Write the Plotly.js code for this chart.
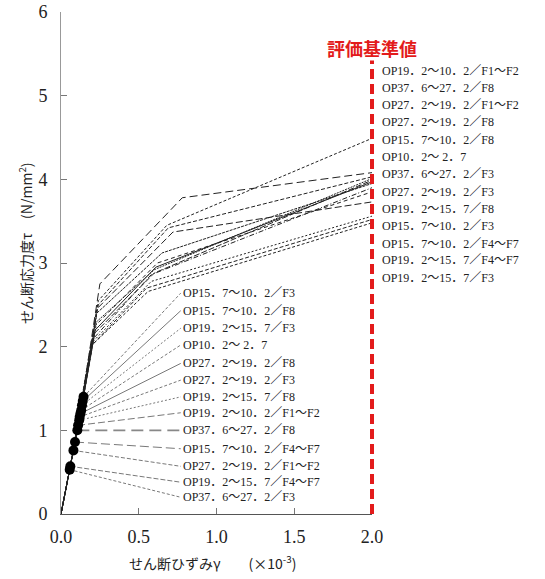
<!DOCTYPE html>
<html>
<head>
<meta charset="utf-8">
<script src="https://cdn.plot.ly/plotly-3.0.1.min.js"></script>
<style>html,body{margin:0;padding:0;background:#fff;}#chart{width:545px;height:579px;}</style>
</head>
<body>
<div id="chart"></div>
<script>
// Curve names (in order of the list beside the evaluation line)
const curveNames = [
  "OP19．2～10．2／F1～F2",
  "OP37．6～27．2／F8",
  "OP27．2～19．2／F1～F2",
  "OP27．2～19．2／F8",
  "OP15．7～10．2／F8",
  "OP10．2～ 2．7",
  "OP37．6～27．2／F3",
  "OP27．2～19．2／F3",
  "OP19．2～15．7／F8",
  "OP15．7～10．2／F3",
  "OP15．7～10．2／F4～F7",
  "OP19．2～15．7／F4～F7",
  "OP19．2～15．7／F3"
];
// Skeleton curve points: crack (marker), second break, third break, end (γ = 2.0)
const crackStrain  = [0.110, 0.105, 0.080, 0.125, 0.140, 0.130, 0.056, 0.120, 0.117, 0.145, 0.090, 0.060, 0.135];
const crackStress  = [1.06, 1.00, 0.76, 1.20, 1.35, 1.24, 0.53, 1.16, 1.12, 1.40, 0.86, 0.57, 1.30];
const yieldStrain  = [0.24, 0.25, 0.24, 0.23, 0.21, 0.22, 0.23, 0.21, 0.22, 0.23, 0.20, 0.19, 0.20];
const yieldStress  = [2.55, 2.75, 2.50, 2.30, 2.15, 2.20, 2.40, 2.10, 2.25, 2.45, 2.05, 2.00, 2.02];
const thirdStrain  = [0.68, 0.78, 0.69, 0.60, 0.60, 0.61, 0.65, 0.58, 0.62, 0.72, 0.58, 0.55, 0.56];
const thirdStress  = [3.45, 3.78, 3.42, 2.92, 2.88, 2.95, 3.12, 2.86, 3.00, 3.37, 2.78, 2.70, 2.66];
const endStrain    = [2.0, 2.0, 2.0, 2.0, 2.0, 2.0, 2.0, 2.0, 2.0, 2.0, 2.0, 2.0, 2.0];
const endStress    = [4.49, 4.08, 4.03, 4.01, 3.99, 3.97, 3.95, 3.90, 3.85, 3.73, 3.56, 3.52, 3.48];

// Right-hand list positions (τ)
const rightLabelTau = [5.30, 5.09, 4.89, 4.68, 4.47, 4.27, 4.06, 3.85, 3.65, 3.44, 3.23, 3.03, 2.82];

// Lower-left marker labels
const markerLabels = [
  "OP15．7～10．2／F3",
  "OP15．7～10．2／F8",
  "OP19．2～15．7／F3",
  "OP10．2～ 2．7",
  "OP27．2～19．2／F8",
  "OP27．2～19．2／F3",
  "OP19．2～15．7／F8",
  "OP19．2～10．2／F1～F2",
  "OP37．6～27．2／F8",
  "OP15．7～10．2／F4～F7",
  "OP27．2～19．2／F1～F2",
  "OP19．2～15．7／F4～F7",
  "OP37．6～27．2／F3"
];
const markerLabelTau = [2.64, 2.43, 2.22, 2.02, 1.80, 1.60, 1.40, 1.21, 1.00, 0.78, 0.57, 0.38, 0.20];
const markerLabelStrain = 0.77;

// Evaluation criterion line
const evalStrain = 2.0;
const evalTop = 5.42;
const evalTitle = "評価基準値";

const xTicks = [0.0, 0.5, 1.0, 1.5, 2.0];
const yTicks = [0, 1, 2, 3, 4, 5, 6];

// ---- styles ----
const curveDash = ["3px,2px","8px,4px","4px,2px","2px,1px","6px,2px","solid","3px,1px",
                   "5px,2px,1px,2px","4px,3px","7px,3px","2px,2px","4px,2px","3px,2px"];
const leaderDash = ["3px,2px","solid","2px,2px","3px,2px","solid","3px,2px","2px,2px",
                    "7px,3px","12px,6px","9px,4px","4px,2px","5px,2px","3px,2px"];
const serif = "'Liberation Serif', 'Times New Roman', 'Noto Sans CJK JP', serif";
const cjk = "'Noto Sans CJK JP', sans-serif";

const traces = [];
for (let i = 0; i < curveNames.length; i++) {
  traces.push({
    type: 'scatter', mode: 'lines', name: curveNames[i], showlegend: false, hoverinfo: 'skip',
    x: [0, crackStrain[i], yieldStrain[i], thirdStrain[i], endStrain[i]],
    y: [0, crackStress[i], yieldStress[i], thirdStress[i], endStress[i]],
    line: {color: '#222', width: 1, dash: curveDash[i]}
  });
}
// leader lines
for (let j = 0; j < markerLabels.length; j++) {
  const k = curveNames.indexOf(markerLabels[j]);
  traces.push({
    type: 'scatter', mode: 'lines', showlegend: false, hoverinfo: 'skip',
    x: [crackStrain[k], markerLabelStrain],
    y: [crackStress[k], markerLabelTau[j]],
    line: {color: j === 8 ? '#888' : '#555', width: j === 8 ? 1.6 : 0.8, dash: leaderDash[j]}
  });
}
// crack markers
traces.push({
  type: 'scatter', mode: 'markers', showlegend: false, hoverinfo: 'skip',
  x: crackStrain, y: crackStress,
  marker: {color: '#000', size: 10}
});

const annotations = [];
for (let i = 0; i < curveNames.length; i++) {
  annotations.push({
    xref: 'paper', yref: 'y', x: 1.026, y: rightLabelTau[i], xanchor: 'left', yanchor: 'middle',
    text: curveNames[i], showarrow: false, font: {family: serif, size: 12, color: '#222'}
  });
}
for (let j = 0; j < markerLabels.length; j++) {
  annotations.push({
    xref: 'x', yref: 'y', x: markerLabelStrain, y: markerLabelTau[j], xanchor: 'left', yanchor: 'middle',
    text: markerLabels[j], showarrow: false, font: {family: serif, size: 12, color: '#222'}
  });
}
annotations.push({
  xref: 'paper', yref: 'y', x: evalStrain / xTicks[xTicks.length - 1], y: 5.57, xanchor: 'center', yanchor: 'middle',
  text: '<b>' + evalTitle + '</b>', showarrow: false, font: {family: cjk, size: 18, color: '#e31b1b'}
});
annotations.push({
  xref: 'paper', yref: 'paper', x: -0.112, y: 0.54, xanchor: 'center', yanchor: 'middle', textangle: -90,
  text: 'せん断応力度τ　(N/mm<sup>2</sup>)', showarrow: false, font: {family: cjk, size: 14, color: '#222'}
});
annotations.push({
  xref: 'paper', yref: 'paper', x: 0.486, y: -0.096, xanchor: 'center', yanchor: 'middle',
  text: 'せん断ひずみγ　　(×10<sup>-3</sup>)', showarrow: false, font: {family: cjk, size: 14, color: '#222'}
});

const layout = {
  width: 545, height: 579,
  margin: {l: 61, r: 173, t: 12, b: 65},
  paper_bgcolor: '#fff', plot_bgcolor: '#fff',
  showlegend: false,
  xaxis: {
    range: [0, 2.0], tickvals: xTicks, tickformat: '.1f',
    ticks: 'inside', ticklen: 6, tickcolor: '#777', showgrid: false, zeroline: false,
    showline: true, linecolor: '#555', linewidth: 1.2, ticklabelstandoff: 6,
    tickfont: {family: serif, size: 18, color: '#222'}
  },
  yaxis: {
    range: [0, 6], tickvals: yTicks,
    ticks: 'inside', ticklen: 6, tickcolor: '#777', showgrid: false, zeroline: false,
    showline: true, linecolor: '#999', linewidth: 1, ticklabelstandoff: 9,
    tickfont: {family: serif, size: 18, color: '#222'}
  },
  shapes: [{
    type: 'line', xref: 'paper', yref: 'paper',
    x0: evalStrain / xTicks[xTicks.length - 1], x1: evalStrain / xTicks[xTicks.length - 1],
    y0: 0, y1: evalTop / yTicks[yTicks.length - 1],
    line: {color: '#e31b1b', width: 4, dash: '10px,5px'}
  }],
  annotations: annotations
};

Plotly.newPlot('chart', traces, layout, {displayModeBar: false, staticPlot: true});
</script>
</body>
</html>
